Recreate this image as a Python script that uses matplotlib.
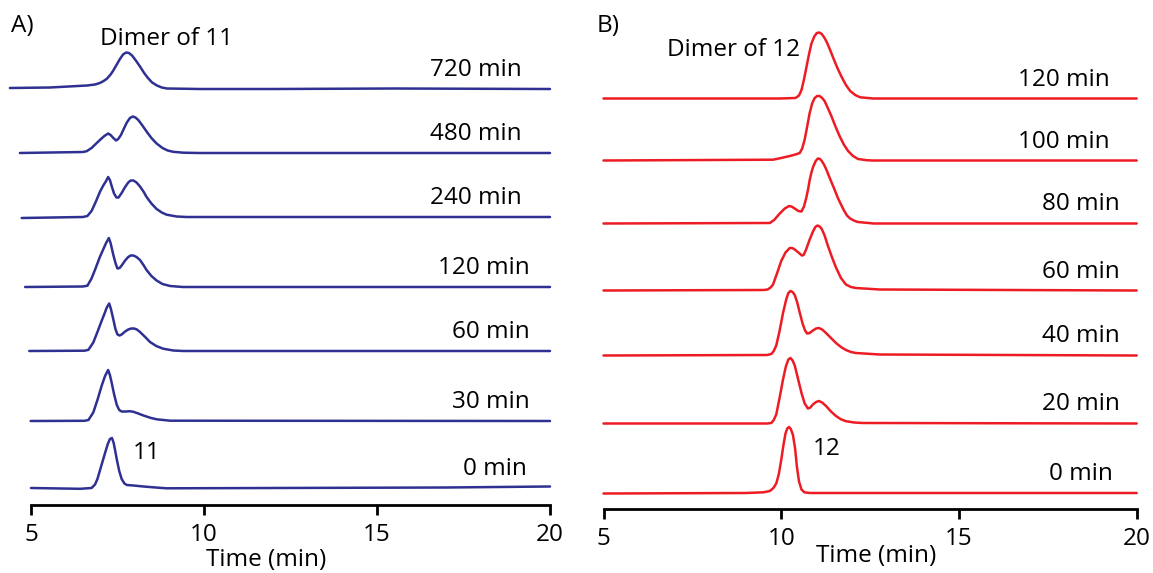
import matplotlib.pyplot as plt

plt.rcParams['font.family'] = ['Open Sans', 'DejaVu Sans']

# ---- panel A: HPLC traces of 11 (time in min, signal in a.u.) ----
labels_a = ['720 min', '480 min', '240 min', '120 min', '60 min', '30 min', '0 min']
offsets_a = [416, 352, 288, 218, 154, 84, 17]

t_a720 = [4.39, 5.55, 6.62, 6.85, 6.99, 7.1, 7.2, 7.3, 7.37, 7.47, 7.57, 7.66, 7.75, 7.83, 7.92, 8.03,
          8.15, 8.27, 8.38, 8.5, 8.64, 8.78, 8.93, 9.88, 12.0, 15.5, 20.0]
h_a720 = [1.0, 1.5, 3.5, 4.5, 6.0, 8.0, 10.5, 14.5, 18.0, 24.0, 30.0, 34.5, 36.5, 36.0, 33.5, 28.5,
          22.5, 16.0, 11.0, 6.5, 3.5, 1.5, 0.5, 0.0, 0.0, 0.5, 0.0]

t_a480 = [4.68, 6.5, 6.61, 6.75, 6.87, 6.99, 7.12, 7.23, 7.3, 7.38, 7.46, 7.52, 7.6, 7.68, 7.77, 7.86,
          7.94, 8.02, 8.1, 8.22, 8.34, 8.48, 8.63, 8.8, 8.95, 9.11, 9.4, 9.88, 20.0]
h_a480 = [0.0, 1.0, 1.8, 5.0, 9.0, 13.0, 17.0, 19.5, 18.0, 15.0, 12.5, 14.0, 18.0, 24.0, 30.5, 35.0,
          36.5, 35.5, 33.0, 27.5, 21.5, 15.0, 9.5, 5.0, 2.5, 1.2, 0.3, 0.0, 0.0]

t_a240 = [4.73, 6.5, 6.63, 6.75, 6.87, 6.99, 7.08, 7.17, 7.23, 7.28, 7.34, 7.4, 7.47, 7.53, 7.62, 7.72,
          7.81, 7.88, 7.96, 8.05, 8.15, 8.25, 8.34, 8.48, 8.63, 8.78, 8.92, 9.21, 9.5, 20.0]
h_a240 = [-1.0, 0.0, 1.0, 6.0, 15.0, 25.0, 31.0, 36.0, 40.0, 37.0, 30.0, 23.5, 19.5, 19.5, 24.0, 30.0,
          34.5, 36.5, 36.5, 34.5, 30.5, 25.5, 20.0, 13.5, 8.0, 4.5, 2.3, 0.5, 0.0, 0.0]

t_a120 = [4.83, 6.5, 6.63, 6.75, 6.87, 6.99, 7.08, 7.17, 7.25, 7.3, 7.38, 7.45, 7.5, 7.56, 7.62, 7.72,
          7.81, 7.88, 7.96, 8.05, 8.15, 8.25, 8.34, 8.48, 8.63, 8.8, 9.02, 9.39, 20.0]
h_a120 = [0.0, 0.5, 1.3, 8.5, 19.0, 30.0, 37.0, 44.0, 49.0, 44.0, 32.0, 23.0, 18.5, 19.0, 21.5, 26.5,
          30.0, 31.5, 31.5, 30.0, 27.0, 22.0, 17.0, 11.0, 6.5, 3.0, 1.0, 0.0, 0.0]

t_a60 = [4.95, 6.55, 6.66, 6.8, 6.92, 7.04, 7.12, 7.19, 7.26, 7.31, 7.38, 7.44, 7.5, 7.56, 7.62, 7.72,
         7.81, 7.9, 7.98, 8.06, 8.15, 8.3, 8.44, 8.62, 8.82, 9.11, 9.4, 20.0]
h_a60 = [0.0, 0.3, 1.2, 8.5, 19.0, 30.0, 37.0, 43.5, 47.5, 42.0, 31.5, 22.0, 16.5, 15.5, 16.5, 19.5,
         21.5, 22.5, 22.5, 21.5, 19.0, 14.0, 9.0, 5.0, 2.3, 0.5, 0.0, 0.0]

t_a30 = [4.99, 6.55, 6.66, 6.8, 6.92, 7.04, 7.14, 7.23, 7.28, 7.33, 7.4, 7.48, 7.55, 7.62, 7.75, 7.85,
         7.96, 8.1, 8.25, 8.45, 8.63, 9.02, 20.0]
h_a30 = [0.0, 0.2, 1.0, 8.5, 21.0, 35.0, 45.0, 51.0, 46.0, 38.5, 27.0, 16.0, 11.0, 9.5, 9.5, 9.8,
         9.2, 7.5, 5.5, 3.2, 1.7, 0.3, 0.0]

t_a0 = [5.0, 6.42, 6.75, 6.85, 6.92, 7.03, 7.14, 7.22, 7.28, 7.34, 7.39, 7.44, 7.48, 7.55, 7.62, 7.7,
        7.77, 7.96, 8.25, 8.6, 8.92, 12.0, 17.0, 20.0]
h_a0 = [0.0, -0.8, 0.0, 3.5, 9.0, 22.0, 35.0, 44.0, 49.0, 50.0, 45.0, 36.0, 28.5, 17.0, 9.0, 4.5,
        3.0, 2.5, 1.5, 0.5, -0.3, 0.0, 0.5, 1.5]

# ---- panel B: HPLC traces of 12 ----
labels_b = ['120 min', '100 min', '80 min', '60 min', '40 min', '20 min', '0 min']
offsets_b = [410, 348, 285, 218, 153, 85, 15]

t_b120 = [5.0, 9.96, 10.4, 10.5, 10.57, 10.64, 10.71, 10.78, 10.85, 10.93, 11.0, 11.07, 11.14, 11.21,
          11.28, 11.37, 11.47, 11.58, 11.7, 11.82, 11.94, 12.08, 12.22, 12.59, 20.0]
h_b120 = [0.0, 0.0, 0.5, 3.0, 8.5, 19.0, 31.5, 44.0, 55.0, 62.0, 65.5, 66.0, 64.5, 61.0,
          56.5, 49.0, 40.0, 30.5, 21.5, 13.5, 7.5, 3.5, 1.2, 0.0, 0.0]

t_b100 = [5.0, 9.77, 10.0, 10.24, 10.4, 10.52, 10.59, 10.66, 10.73, 10.8, 10.87, 10.94, 11.01, 11.08,
          11.15, 11.22, 11.31, 11.41, 11.52, 11.64, 11.76, 11.88, 12.02, 12.16, 12.4, 12.59, 20.0]
h_b100 = [0.0, 0.8, 2.5, 4.5, 6.0, 7.5, 12.0, 21.0, 34.0, 47.5, 57.0, 62.5, 64.5, 64.5,
          62.5, 59.5, 52.5, 44.5, 34.5, 24.5, 16.0, 9.5, 4.5, 1.5, 0.3, 0.0, 0.0]

t_b80 = [5.0, 9.68, 9.8, 9.96, 10.1, 10.22, 10.3, 10.38, 10.48, 10.57, 10.64, 10.71, 10.76, 10.8, 10.85,
         10.9, 10.97, 11.03, 11.09, 11.14, 11.21, 11.28, 11.37, 11.47, 11.6, 11.75, 11.85, 11.94, 12.05,
         12.16, 12.6, 20.0]
h_b80 = [0.0, 0.5, 3.5, 10.0, 15.0, 17.5, 16.8, 15.0, 12.5, 12.0, 17.0, 26.5, 35.0, 43.5, 51.0,
         57.0, 62.5, 65.0, 64.5, 62.5, 58.5, 53.0, 45.0, 36.5, 25.0, 14.0, 8.0, 5.0, 2.8,
         1.5, 0.0, 0.0]

t_b60 = [5.0, 9.5, 9.62, 9.7, 9.77, 9.88, 10.0, 10.12, 10.24, 10.31, 10.38, 10.5, 10.58, 10.63, 10.7,
         10.8, 10.9, 10.96, 11.02, 11.08, 11.14, 11.22, 11.31, 11.42, 11.54, 11.68, 11.82, 11.96, 12.1,
         12.77, 20.0]
h_b60 = [0.0, 0.5, 1.0, 3.0, 6.0, 17.0, 29.5, 38.0, 42.5, 42.5, 41.0, 37.5, 35.0, 35.5, 41.0,
         51.0, 59.5, 63.5, 65.0, 64.0, 61.5, 55.0, 45.0, 34.0, 23.0, 12.5, 6.0, 3.5, 2.5,
         1.0, 0.0]

t_b40 = [5.0, 9.6, 9.72, 9.79, 9.86, 9.95, 10.05, 10.14, 10.2, 10.26, 10.32, 10.38, 10.45, 10.52, 10.6,
         10.67, 10.73, 10.8, 10.89, 10.98, 11.06, 11.15, 11.26, 11.4, 11.54, 11.68, 11.82, 11.96, 12.1,
         12.77, 20.0]
h_b40 = [0.0, 0.5, 1.5, 4.5, 10.0, 24.0, 42.5, 56.0, 62.5, 64.5, 63.5, 60.5, 53.0, 43.0, 32.0,
         25.0, 22.0, 22.5, 25.0, 27.0, 27.5, 26.0, 22.5, 17.5, 12.5, 8.5, 5.5, 3.5, 2.5,
         1.0, 0.0]

t_b20 = [5.0, 9.6, 9.72, 9.79, 9.86, 9.95, 10.05, 10.13, 10.2, 10.26, 10.32, 10.38, 10.47, 10.57, 10.66,
         10.75, 10.82, 10.89, 10.98, 11.06, 11.15, 11.26, 11.4, 11.54, 11.68, 11.82, 12.05, 12.3, 20.0]
h_b20 = [0.0, 0.0, 0.5, 3.5, 9.0, 25.0, 44.0, 57.0, 64.0, 65.5, 63.0, 58.0, 45.0, 30.5, 20.0,
         15.0, 16.0, 19.0, 21.5, 22.5, 21.0, 17.5, 12.0, 7.5, 4.2, 2.3, 1.0, 0.5, 0.0]

t_b0 = [5.0, 9.01, 9.5, 9.68, 9.78, 9.86, 9.93, 10.0, 10.06, 10.12, 10.17, 10.22, 10.27, 10.33, 10.39,
        10.44, 10.5, 10.57, 10.65, 10.8, 20.0]
h_b0 = [0.0, 0.5, 1.2, 2.5, 5.5, 10.0, 19.0, 33.5, 48.0, 60.0, 65.0, 66.5, 64.5, 58.5, 45.0,
        27.0, 12.0, 4.0, 1.2, 0.5, 0.5]

traces_a = [(t_a720, h_a720), (t_a480, h_a480), (t_a240, h_a240), (t_a120, h_a120),
            (t_a60, h_a60), (t_a30, h_a30), (t_a0, h_a0)]
traces_b = [(t_b120, h_b120), (t_b100, h_b100), (t_b80, h_b80), (t_b60, h_b60),
            (t_b40, h_b40), (t_b20, h_b20), (t_b0, h_b0)]

# right edge of each "xx min" label, in minutes
lab_x_a = [19.19, 19.19, 19.19, 19.42, 19.42, 19.42, 19.34]
lab_x_b = [19.25, 19.25, 19.53, 19.53, 19.53, 19.53, 19.33]

W, H = 1153, 573
fs = 17.5
fig = plt.figure(figsize=(W / 100, H / 100), dpi=100)
ax_a = fig.add_axes([31 / W, (H - 505) / H, (550 - 31) / W, 505 / H])
ax_b = fig.add_axes([603.5 / W, (H - 508.5) / H, (1136.7 - 603.5) / W, 508.5 / H])


def draw_panel(ax, traces, offsets, labels, lab_x, color, ytop, xlab_x, xlab_y):
    for (t, h), off, lab, lx in zip(traces, offsets, labels, lab_x):
        ax.plot(t, [v + off for v in h], color=color, lw=1.8, clip_on=False,
                solid_joinstyle='round', solid_capstyle='round')
        ax.text(lx, off + 19, lab, ha='right', va='center', fontsize=fs)
    ax.set_xlim(5, 20)
    ax.set_ylim(0, ytop)
    for s in ['top', 'left', 'right']:
        ax.spines[s].set_visible(False)
    ax.spines['bottom'].set_linewidth(2)
    ax.set_yticks([])
    ax.set_xticks([5, 10, 15, 20])
    ax.tick_params(axis='x', direction='out', length=7, width=2, pad=6, labelsize=fs)
    ax.set_xlabel('Time (min)', fontsize=fs, labelpad=0)
    ax.xaxis.set_label_coords(xlab_x, xlab_y)


draw_panel(ax_a, traces_a, offsets_a, labels_a, lab_x_a, '#2E3192', 505, 0.453, -0.085)
draw_panel(ax_b, traces_b, offsets_b, labels_b, lab_x_b, '#ED1C24', 508.5, 0.511, -0.07)

ax_a.text(6.99, 466, 'Dimer of 11', fontsize=fs, va='center')
ax_a.text(7.95, 52, '11', fontsize=fs, va='center')
ax_b.text(6.79, 458.5, 'Dimer of 12', fontsize=fs, va='center')
ax_b.text(10.89, 59.5, '12', fontsize=fs, va='center')
fig.text(11 / W, 1 - 26 / H, 'A)', fontsize=fs, va='center')
fig.text(597 / W, 1 - 26 / H, 'B)', fontsize=fs, va='center')

fig.savefig('out.png', dpi=100)
